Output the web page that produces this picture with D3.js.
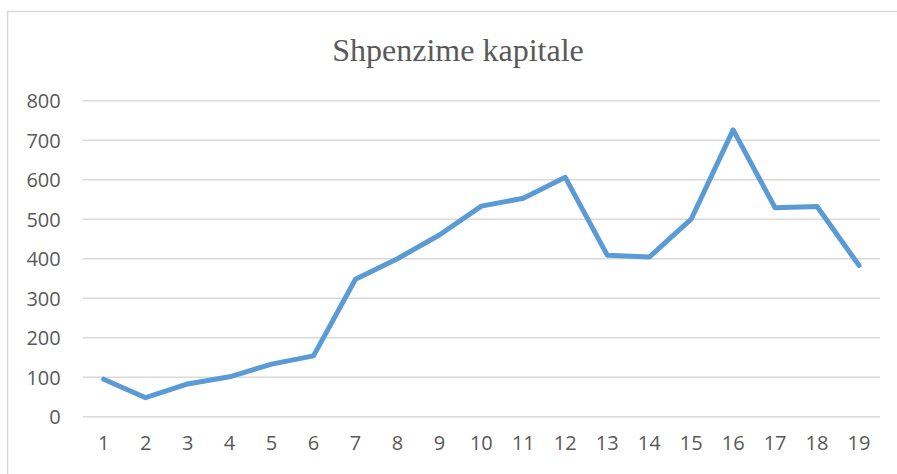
<!DOCTYPE html>
<html lang="sq">
<head>
<meta charset="UTF-8">
<title>Shpenzime kapitale</title>
<script src="https://d3js.org/d3.v7.min.js"></script>
<style>
  body { margin: 0; background: #fff; }
  .title { font-family: "Liberation Serif", "Times New Roman", serif; fill: #595959; }
  .tick text { font-family: "Open Sans", sans-serif; fill: #595959; }
</style>
</head>
<body>
<svg id="chart" width="897" height="474"></svg>
<script>
// data
var years = d3.range(1, 20);
var capitalSpending = [95, 48, 83, 101, 133, 154, 348, 400, 460, 533, 553, 606, 409, 404, 500, 726, 529, 532, 383];
var yTicks = [0, 100, 200, 300, 400, 500, 600, 700, 800];

var svg = d3.select("#chart");

// chart border
svg.append("rect")
    .attr("x", 7.5).attr("y", 11.5)
    .attr("width", 900).attr("height", 480)
    .attr("fill", "none")
    .attr("stroke", "#d9d9d9")
    .attr("stroke-width", 1.5);

var x = d3.scaleBand()
    .domain(years)
    .range([82.7, 880]);

var y = d3.scaleLinear()
    .domain([0, 800])
    .range([416.7, 100.7]);

// gridlines
svg.append("g")
  .selectAll("line")
  .data(yTicks)
  .enter()
  .append("line")
    .attr("x1", 82.7).attr("x2", 880)
    .attr("y1", d => y(d)).attr("y2", d => y(d))
    .attr("stroke", "#d9d9d9")
    .attr("stroke-width", 1.5);

var yAxis = svg.append("g")
    .attr("transform", "translate(82.7,0)")
    .call(d3.axisLeft(y).tickValues(yTicks).tickSize(0).tickPadding(22));
yAxis.select(".domain").remove();
yAxis.selectAll("text").attr("font-size", 20).attr("dy", "0.35em");

var xAxis = svg.append("g")
    .attr("transform", "translate(0,416.7)")
    .call(d3.axisBottom(x).tickSize(0).tickPadding(19));
xAxis.select(".domain").remove();
xAxis.selectAll("text").attr("font-size", 20).attr("dy", "0.71em");

var line = d3.line()
    .x((d, i) => x(years[i]) + x.bandwidth() / 2)
    .y(d => y(d));

svg.append("path")
    .datum(capitalSpending)
    .attr("d", line)
    .attr("fill", "none")
    .attr("stroke", "#5b9bd5")
    .attr("stroke-width", 5)
    .attr("stroke-linejoin", "round")
    .attr("stroke-linecap", "round");

svg.append("text")
    .attr("class", "title")
    .attr("x", 458).attr("y", 61)
    .attr("text-anchor", "middle")
    .attr("font-size", 32)
    .text("Shpenzime kapitale");
</script>
</body>
</html>
